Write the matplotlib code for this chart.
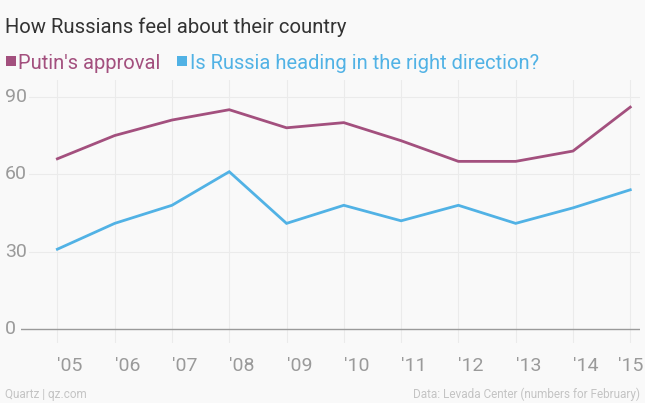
import matplotlib
matplotlib.use('Agg')
import matplotlib.pyplot as plt
import matplotlib.transforms as mtransforms
from matplotlib.patches import Rectangle

# Levada Center polls, February of each year
years = [2005, 2006, 2007, 2008, 2009, 2010, 2011, 2012, 2013, 2014, 2015]
year_labels = ["'05", "'06", "'07", "'08", "'09", "'10", "'11", "'12", "'13", "'14", "'15"]
putin_approval = [66, 75, 81, 85, 78, 80, 73, 65, 65, 69, 86]
right_direction = [31, 41, 48, 61, 41, 48, 42, 48, 41, 47, 54]
y_ticks = [0, 30, 60, 90]

putin_color = '#a3507e'
russia_color = '#51b2e5'
bg = '#f9f9f9'

plt.rcParams['font.family'] = ['Roboto', 'DejaVu Sans']

W, H = 645, 403
fig = plt.figure(figsize=(W / 100, H / 100), dpi=100, facecolor=bg)
ax = fig.add_axes([20.7 / W, (H - 343) / H, 619.3 / W, 263 / H], facecolor=bg)

ax.plot(years, putin_approval, color=putin_color, lw=2.0, solid_joinstyle='miter', zorder=3)
ax.plot(years, right_direction, color=russia_color, lw=2.0, solid_joinstyle='miter', zorder=3)

ax.set_xlim(2004.36, 2015.17)
ax.set_ylim(-5.3, 96.5)

# grid
for y in y_ticks[1:]:
    ax.axhline(y, color='#ebebeb', lw=0.8, zorder=1)
ax.axhline(0, color='#9a9a9a', lw=1.0, zorder=2)
for x in years:
    ax.axvline(x, color='#ebebeb', lw=0.8, zorder=1)

for s in ax.spines.values():
    s.set_visible(False)

ax.set_xticks(years)
ax.set_xticklabels(year_labels)
ax.tick_params(axis='x', length=0, pad=10, labelsize=14, labelcolor='#9a9a9a')
labels = ax.get_xticklabels()
for lab in labels:
    lab.set_ha('left')
# last label is pulled back so it fits inside the picture
labels[-1].set_ha('right')
labels[-1].set_transform(labels[-1].get_transform() +
                         mtransforms.ScaledTranslation(0.13, 0, fig.dpi_scale_trans))
ax.set_yticks([])

# y labels sit on the left, over the grid lines
trans = mtransforms.blended_transform_factory(fig.transFigure, ax.transData)
for y in y_ticks:
    ax.text(5 / W, y, str(y), transform=trans, ha='left', va='center',
            fontsize=14, color='#9a9a9a', zorder=4,
            bbox=dict(facecolor=bg, edgecolor='none', pad=1.5))

# title and legend
fig.text(5 / W, (H - 33) / H, 'How Russians feel about their country',
         fontsize=14.6, color='#333333', va='baseline', ha='left')

fig.patches.append(Rectangle((6 / W, (H - 66) / H), 9.5 / W, 10.5 / H,
                             transform=fig.transFigure, facecolor=putin_color, edgecolor='none'))
fig.text(18.5 / W, (H - 69) / H, "Putin's approval", fontsize=14.5,
         color=putin_color, va='baseline', ha='left')
fig.patches.append(Rectangle((177 / W, (H - 66) / H), 9.5 / W, 10.5 / H,
                             transform=fig.transFigure, facecolor=russia_color, edgecolor='none'))
fig.text(190 / W, (H - 69) / H, 'Is Russia heading in the right direction?', fontsize=14.5,
         color=russia_color, va='baseline', ha='left')

# footer
fig.text(5 / W, (H - 398) / H, 'Quartz | qz.com', fontsize=8.5, color='#c4c4c4',
         va='baseline', ha='left')
fig.text(640 / W, (H - 398) / H, 'Data: Levada Center (numbers for February)',
         fontsize=8.5, color='#c4c4c4', va='baseline', ha='right')

fig.savefig('out.png', dpi=100, facecolor=bg)
